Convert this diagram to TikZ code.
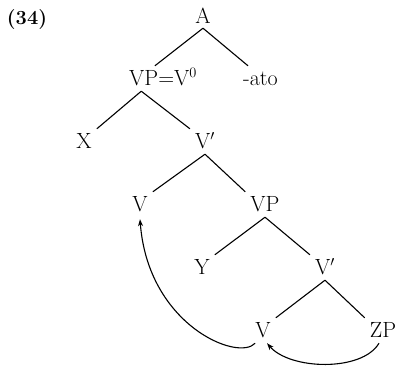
\documentclass[tikz,border=0pt]{standalone}
\usepackage{fontspec}
\usepackage{tikz}
\usetikzlibrary{arrows.meta,calc}

\tikzset{
  cat/.style={anchor=base, font=\fontsize{22}{26}\selectfont, text height=15pt, text depth=2pt, inner xsep=5pt, inner ysep=4pt},
  branch/.style={line width=1.1pt},
  move/.style={line width=1.1pt, -{Stealth[length=7pt,width=5pt]}}
}

\begin{document}
\begin{tikzpicture}[x=1pt, y=-1pt, font=\fontsize{20}{24}\selectfont]
\useasboundingbox (0,0) rectangle (399,367);

% Example number
\node[anchor=base] (num) at (27,24) {\textbf{(34)}};

% Nodes of the tree
\node[cat] (a)    at (203,23)  {A};
\node[cat, anchor=base west, inner xsep=0pt] (vpv) at (129,85) {VP=V$^0$};
\node[cat, anchor=base west, inner xsep=0pt] (ato) at (243,85) {-ato};
\node[cat] (x)    at (84,148)  {X};
\node[cat] (vb1)  at (205,148) {V$'$};
\node[cat] (v1)   at (140,211) {V};
\node[cat] (vp)   at (265,211) {VP};
\node[cat] (y)    at (202,274) {Y};
\node[cat] (vb2)  at (325,274) {V$'$};
\node[cat] (v2)   at (263,337) {V};
\node[cat] (zp)   at (383,337) {ZP};

% Branches
\draw[branch] ([yshift=1pt]a.south) -- ($(vpv.north west)!.38!(vpv.north east)$);
\draw[branch] ([yshift=1pt]a.south) -- ([xshift=5pt]ato.north west);
\draw[branch] ($(vpv.south west)!.18!(vpv.south east)$) -- (x.north east);
\draw[branch] ($(vpv.south west)!.18!(vpv.south east)$) -- (vb1.north west);
\draw[branch] (vb1.south) -- (v1.north east);
\draw[branch] (vb1.south) -- (vp.north west);
\draw[branch] (vp.south) -- (y.north east);
\draw[branch] (vp.south) -- (vb2.north west);
\draw[branch] (vb2.south) -- (v2.north east);
\draw[branch] (vb2.south) -- (zp.north west);

% Movement arrows
\draw[move] ([xshift=-4pt]zp.south) .. controls (362,372) and (290,370) .. ([xshift=4pt]v2.south);
\draw[move] ([xshift=5pt]v2.south west) .. controls (238,362) and (148,325) .. ([yshift=-2pt]v1.south);
\end{tikzpicture}
\end{document}
